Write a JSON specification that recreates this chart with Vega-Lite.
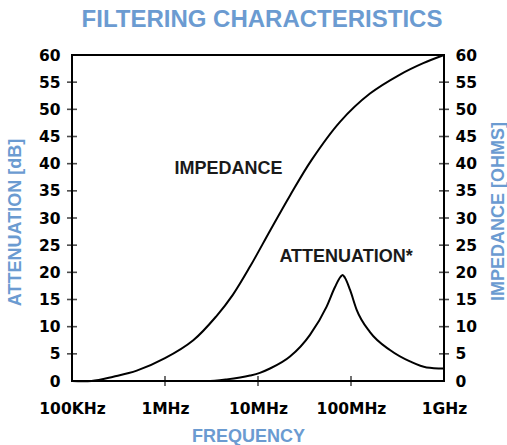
{
  "$schema": "https://vega.github.io/schema/vega-lite/v6.json",
  "width": 372,
  "height": 326,
  "autosize": {"type": "none"},
  "padding": {"left": 72, "top": 55, "right": 63, "bottom": 64},
  "background": "white",
  "config": {
    "view": {"stroke": "black", "strokeWidth": 2}
  },
  "title": {
    "text": "FILTERING CHARACTERISTICS",
    "font": "Liberation Sans",
    "fontWeight": "bold",
    "fontSize": 24,
    "color": "#6b9bd1",
    "baseline": "alphabetic",
    "anchor": "middle",
    "frame": "group",
    "offset": -3,
    "dx": 4
  },
  "datasets": {
    "curves": [
      {"series": "impedance", "freq": 100000, "value": 0},
      {"series": "impedance", "freq": 162000, "value": 0},
      {"series": "impedance", "freq": 278000, "value": 0.8},
      {"series": "impedance", "freq": 497000, "value": 1.9},
      {"series": "impedance", "freq": 1000000, "value": 4.2},
      {"series": "impedance", "freq": 2014000, "value": 7.5},
      {"series": "impedance", "freq": 3597000, "value": 12.0},
      {"series": "impedance", "freq": 5383000, "value": 15.9},
      {"series": "impedance", "freq": 8240000, "value": 21.1},
      {"series": "impedance", "freq": 13610000, "value": 27.8},
      {"series": "impedance", "freq": 22200000, "value": 34.2},
      {"series": "impedance", "freq": 37760000, "value": 40.7},
      {"series": "impedance", "freq": 76200000, "value": 47.7},
      {"series": "impedance", "freq": 160000000, "value": 52.9},
      {"series": "impedance", "freq": 336500000, "value": 56.4},
      {"series": "impedance", "freq": 598400000, "value": 58.5},
      {"series": "impedance", "freq": 1000000000, "value": 60},
      {"series": "attenuation", "freq": 1000000, "value": 0},
      {"series": "attenuation", "freq": 2805000, "value": 0},
      {"series": "attenuation", "freq": 4603000, "value": 0.3},
      {"series": "attenuation", "freq": 8204000, "value": 1.0},
      {"series": "attenuation", "freq": 10470000, "value": 1.5},
      {"series": "attenuation", "freq": 13460000, "value": 2.3},
      {"series": "attenuation", "freq": 22080000, "value": 4.5},
      {"series": "attenuation", "freq": 36220000, "value": 8.5},
      {"series": "attenuation", "freq": 54700000, "value": 13.7},
      {"series": "attenuation", "freq": 67300000, "value": 17.3},
      {"series": "attenuation", "freq": 77450000, "value": 19.2},
      {"series": "attenuation", "freq": 81280000, "value": 19.5},
      {"series": "attenuation", "freq": 86100000, "value": 19.0},
      {"series": "attenuation", "freq": 97500000, "value": 16.8},
      {"series": "attenuation", "freq": 115100000, "value": 13.1},
      {"series": "attenuation", "freq": 160000000, "value": 9.0},
      {"series": "attenuation", "freq": 262400000, "value": 5.7},
      {"series": "attenuation", "freq": 430500000, "value": 3.6},
      {"series": "attenuation", "freq": 650100000, "value": 2.5},
      {"series": "attenuation", "freq": 1000000000, "value": 2.3}
    ],
    "labels": [
      {"label": "IMPEDANCE", "freq": 4810000, "value": 39},
      {"label": "ATTENUATION*", "freq": 88500000, "value": 22.9}
    ],
    "yticks": [
      {"freq": 100000, "value": 5}, {"freq": 100000, "value": 10}, {"freq": 100000, "value": 15},
      {"freq": 100000, "value": 20}, {"freq": 100000, "value": 25}, {"freq": 100000, "value": 30},
      {"freq": 100000, "value": 35}, {"freq": 100000, "value": 40}, {"freq": 100000, "value": 45},
      {"freq": 100000, "value": 50}, {"freq": 100000, "value": 55},
      {"freq": 1000000000, "value": 5}, {"freq": 1000000000, "value": 10}, {"freq": 1000000000, "value": 15},
      {"freq": 1000000000, "value": 20}, {"freq": 1000000000, "value": 25}, {"freq": 1000000000, "value": 30},
      {"freq": 1000000000, "value": 35}, {"freq": 1000000000, "value": 40}, {"freq": 1000000000, "value": 45},
      {"freq": 1000000000, "value": 50}, {"freq": 1000000000, "value": 55}
    ],
    "xticks": [
      {"freq": 1000000, "value": 0}, {"freq": 10000000, "value": 0}, {"freq": 100000000, "value": 0}
    ]
  },
  "layer": [
    {
      "data": {"name": "curves"},
      "transform": [{"filter": "datum.series === 'attenuation'"}],
      "mark": {"type": "line", "color": "black", "strokeWidth": 2, "interpolate": "monotone"},
      "encoding": {
        "x": {
          "field": "freq", "type": "quantitative",
          "scale": {"type": "log", "domain": [100000, 1000000000]},
          "axis": {
            "values": [100000, 1000000, 10000000, 100000000, 1000000000],
            "labelExpr": "datum.value < 200000 ? '100KHz' : datum.value < 2000000 ? '1MHz' : datum.value < 20000000 ? '10MHz' : datum.value < 200000000 ? '100MHz' : '1GHz'",
            "ticks": false, "tickSize": 0, "domain": false, "grid": false,
            "labelPadding": 20, "labelFlush": false, "labelOverlap": false,
            "labelFont": "DejaVu Sans", "labelFontWeight": "bold", "labelFontSize": 15.5, "labelColor": "black",
            "title": "FREQUENCY", "titleFont": "Liberation Sans", "titleFontWeight": "bold", "titleFontSize": 18,
            "titleColor": "#6b9bd1", "titleX": 176, "titleY": 60, "titleBaseline": "alphabetic", "titleAlign": "center"
          }
        },
        "y": {
          "field": "value", "type": "quantitative",
          "scale": {"domain": [0, 60], "nice": false, "zero": false},
          "axis": {
            "orient": "left",
            "values": [0, 5, 10, 15, 20, 25, 30, 35, 40, 45, 50, 55, 60],
            "ticks": false, "tickSize": 0, "domain": false, "grid": false,
            "labelPadding": 12, "labelFlush": false, "labelOverlap": false,
            "labelFont": "DejaVu Sans", "labelFontWeight": "bold", "labelFontSize": 15.5, "labelColor": "black",
            "title": "ATTENUATION [dB]", "titleFont": "Liberation Sans", "titleFontWeight": "bold", "titleFontSize": 18,
            "titleColor": "#6b9bd1", "titleAngle": -90, "titleX": -56.5, "titleY": 167, "titleBaseline": "middle", "titleAlign": "center"
          }
        }
      }
    },
    {
      "data": {"name": "curves"},
      "transform": [{"filter": "datum.series === 'impedance'"}],
      "mark": {"type": "line", "color": "black", "strokeWidth": 2, "interpolate": "catmull-rom"},
      "encoding": {
        "x": {"field": "freq", "type": "quantitative", "scale": {"type": "log", "domain": [100000, 1000000000]}},
        "y": {"field": "value", "type": "quantitative", "scale": {"domain": [0, 60], "nice": false, "zero": false}, "axis": null}
      }
    },
    {
      "data": {"name": "yticks"},
      "mark": {"type": "tick", "orient": "horizontal", "color": "black", "size": 10, "thickness": 1.6},
      "encoding": {
        "x": {"field": "freq", "type": "quantitative", "scale": {"type": "log", "domain": [100000, 1000000000]}},
        "y": {
          "field": "value", "type": "quantitative",
          "scale": {"domain": [0, 60], "nice": false, "zero": false},
          "axis": {
            "orient": "right",
            "values": [0, 5, 10, 15, 20, 25, 30, 35, 40, 45, 50, 55, 60],
            "ticks": false, "tickSize": 0, "domain": false, "grid": false,
            "labelPadding": 11, "labelFlush": false, "labelOverlap": false,
            "labelFont": "DejaVu Sans", "labelFontWeight": "bold", "labelFontSize": 15.5, "labelColor": "black",
            "title": "IMPEDANCE [OHMS]", "titleFont": "Liberation Sans", "titleFontWeight": "bold", "titleFontSize": 18,
            "titleColor": "#6b9bd1", "titleAngle": -90, "titleX": 54, "titleY": 156, "titleBaseline": "middle", "titleAlign": "center"
          }
        }
      }
    },
    {
      "data": {"name": "xticks"},
      "mark": {"type": "tick", "orient": "vertical", "color": "black", "size": 10, "thickness": 1.6},
      "encoding": {
        "x": {"field": "freq", "type": "quantitative", "scale": {"type": "log", "domain": [100000, 1000000000]}},
        "y": {"field": "value", "type": "quantitative", "scale": {"domain": [0, 60], "nice": false, "zero": false}, "axis": null}
      }
    },
    {
      "data": {"name": "labels"},
      "mark": {"type": "text", "font": "Liberation Sans", "fontWeight": "bold", "fontSize": 18, "color": "#1a1a1a", "align": "center", "baseline": "middle"},
      "encoding": {
        "x": {"field": "freq", "type": "quantitative", "scale": {"type": "log", "domain": [100000, 1000000000]}},
        "y": {"field": "value", "type": "quantitative", "scale": {"domain": [0, 60], "nice": false, "zero": false}, "axis": null},
        "text": {"field": "label"}
      }
    }
  ],
  "resolve": {"scale": {"y": "independent"}}
}
